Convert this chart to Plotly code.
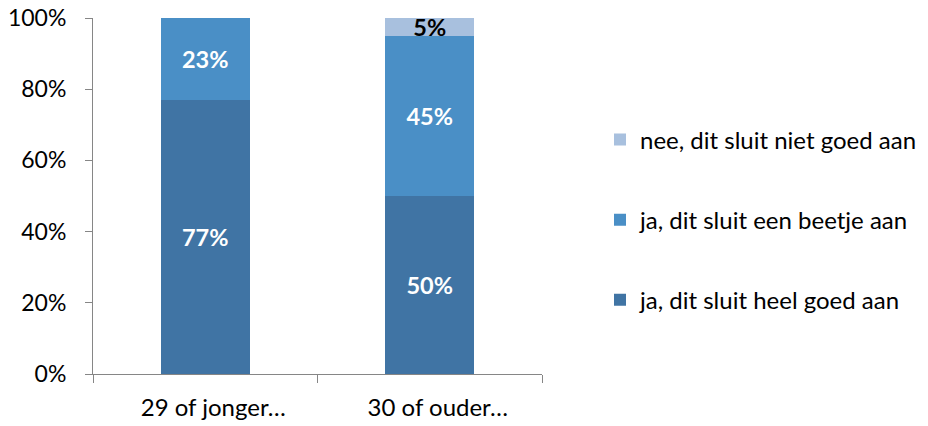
import plotly.graph_objects as go

categories = ["29 of jonger…", "30 of ouder…"]
heel_goed = [77, 50]
beetje = [23, 45]
niet_goed = [0, 5]
y_ticks = [0, 20, 40, 60, 80, 100]
y_tick_text = ["0%", "20%", "40%", "60%", "80%", "100%"]

FONT = "Lato"
series = [
    ("ja, dit sluit heel goed aan", heel_goed, "#4074A4", "white", 3),
    ("ja, dit sluit een beetje aan", beetje, "#4A8FC6", "white", 2),
    ("nee, dit sluit niet goed aan", niet_goed, "#A8C0DE", "black", 1),
]

fig = go.Figure()
for i, (name, vals, color, txtcol, rank) in enumerate(series):
    fig.add_trace(go.Bar(
        x=categories, y=vals, name=name, legendgroup=f"g{i}", legendrank=rank,
        marker=dict(color=color, line=dict(width=0)),
        text=[f"{v}%" if v > 0 else "" for v in vals],
        texttemplate="%{text}",
        textposition="inside", insidetextanchor="middle",
        textfont=dict(family=FONT, size=23.5, color=txtcol, weight="bold"),
        constraintext="none",
        cliponaxis=False,
    ))

fig.update_layout(
    barmode="stack", bargap=0.604,
    width=928, height=426,
    margin=dict(l=93, r=386, t=18, b=52, autoexpand=False),
    plot_bgcolor="white", paper_bgcolor="white",
    font=dict(family=FONT, size=24, color="black"),
    uniformtext=dict(minsize=8, mode="show"),
    legend=dict(
        x=1.0, xanchor="left", xref="paper", y=0.433, yanchor="middle",
        traceorder="grouped", tracegroupgap=46,
        font=dict(family=FONT, size=24, color="black"),
        itemwidth=30, bgcolor="rgba(0,0,0,0)",
        indentation=58,
    ),
    showlegend=True,
)
fig.update_xaxes(
    showline=True, linecolor="#868686", linewidth=1, automargin=False,
    ticks="outside", ticklen=8, tickcolor="#868686", tickson="boundaries",
    showgrid=False, ticklabelstandoff=12, ticklabelshift=8,
    tickfont=dict(family=FONT, size=24, color="black"),
)
fig.update_yaxes(
    range=[0, 100], tickvals=y_ticks, ticktext=y_tick_text, automargin=False,
    showline=True, linecolor="#868686", linewidth=1,
    ticks="outside", ticklen=7, tickcolor="#868686",
    showgrid=False, zeroline=False, ticklabelstandoff=14,
    tickfont=dict(family=FONT, size=23, color="black"),
)

fig.write_html("out.html")
